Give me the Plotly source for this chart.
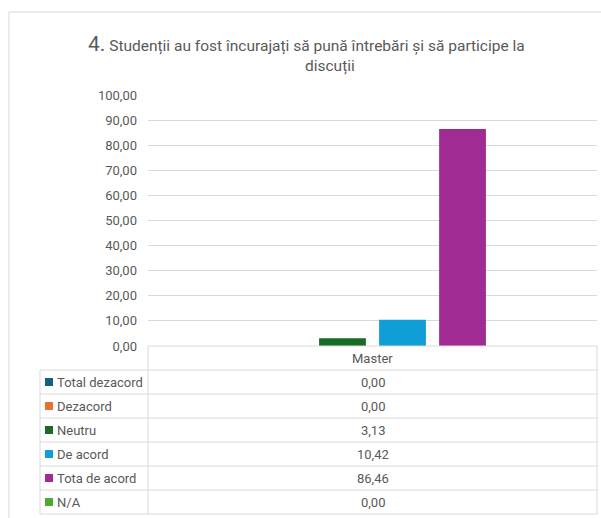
import plotly.graph_objects as go

W, H = 601, 518

category = "Master"
series_names = ["Total dezacord", "Dezacord", "Neutru", "De acord", "Tota de acord", "N/A"]
series_values = [0.00, 0.00, 3.13, 10.42, 86.46, 0.00]
series_colors = ["#156082", "#E97132", "#196B24", "#0F9ED5", "#A02B93", "#4EA72E"]
y_ticks = [0, 10, 20, 30, 40, 50, 60, 70, 80, 90, 100]
title_num = "4."
title_line1 = "Studenții au fost încurajați să pună întrebări și să participe la"
title_line2 = "discuții"

TXT = "#595959"
GRID = "#d9d9d9"
FONT = "Roboto"


def px(x):
    return x / W


def py(y):
    return 1 - y / H


def fmt(v):
    return f"{v:.2f}".replace(".", ",")


plot_left, plot_right = 148, 597
plot_top, plot_bottom = 95, 346
row_h = 24
table_left = 40

fig = go.Figure()
for name, val, col in zip(series_names, series_values, series_colors):
    fig.add_trace(go.Bar(x=[category], y=[val], name=name, marker=dict(color=col, line=dict(width=0))))

shapes = []
line = dict(color=GRID, width=1)
shapes.append(dict(type="line", xref="paper", yref="paper", x0=px(9), x1=px(601), y0=py(12), y1=py(12), line=line))
shapes.append(dict(type="line", xref="paper", yref="paper", x0=px(9), x1=px(9), y0=py(12), y1=py(518), line=line))

n_rows = len(series_names)
table_bottom = plot_bottom + row_h * (n_rows + 1)
shapes.append(dict(type="line", xref="paper", yref="paper", x0=px(plot_left), x1=px(plot_right),
                   y0=py(plot_bottom), y1=py(plot_bottom), line=line))
for i in range(n_rows + 1):
    yy = plot_bottom + row_h * (i + 1)
    shapes.append(dict(type="line", xref="paper", yref="paper", x0=px(table_left), x1=px(plot_right),
                       y0=py(yy), y1=py(yy), line=line))
shapes.append(dict(type="line", xref="paper", yref="paper", x0=px(plot_left), x1=px(plot_left),
                   y0=py(plot_bottom), y1=py(table_bottom), line=line))
shapes.append(dict(type="line", xref="paper", yref="paper", x0=px(plot_right), x1=px(plot_right),
                   y0=py(plot_bottom), y1=py(table_bottom), line=line))
shapes.append(dict(type="line", xref="paper", yref="paper", x0=px(table_left), x1=px(table_left),
                   y0=py(plot_bottom + row_h), y1=py(table_bottom), line=line))

annotations = []
annotations.append(dict(x=px((plot_left + plot_right) / 2), y=py(plot_bottom + row_h / 2), xref="paper", yref="paper",
                        text=category, showarrow=False, xanchor="center", yanchor="middle",
                        font=dict(family=FONT, size=13, color=TXT)))
for i, (name, val, col) in enumerate(zip(series_names, series_values, series_colors)):
    yc = plot_bottom + row_h * (i + 1) + row_h / 2
    shapes.append(dict(type="rect", xref="paper", yref="paper", x0=px(45), x1=px(53),
                       y0=py(yc - 4), y1=py(yc + 4), fillcolor=col, line=dict(width=0)))
    annotations.append(dict(x=px(55), y=py(yc), xref="paper", yref="paper", text=name, showarrow=False,
                            xanchor="left", yanchor="middle", font=dict(family=FONT, size=13, color=TXT)))
    annotations.append(dict(x=px((plot_left + plot_right) / 2), y=py(yc), xref="paper", yref="paper",
                            text=fmt(val), showarrow=False, xanchor="center", yanchor="middle",
                            font=dict(family=FONT, size=13, color=TXT)))

annotations.append(dict(x=px(306), y=py(44), xref="paper", yref="paper",
                        text=f"<span style='font-size:21px'>{title_num}</span> {title_line1}",
                        showarrow=False, xanchor="center", yanchor="middle",
                        font=dict(family=FONT, size=15.5, color=TXT)))
annotations.append(dict(x=px(330), y=py(66), xref="paper", yref="paper", text=title_line2,
                        showarrow=False, xanchor="center", yanchor="middle",
                        font=dict(family=FONT, size=15.5, color=TXT)))

fig.update_layout(
    template="none",
    width=W, height=H,
    margin=dict(l=0, r=0, t=0, b=0, pad=0, autoexpand=False),
    paper_bgcolor="white", plot_bgcolor="white",
    separators=",.",
    barmode="group", bargap=0.198, bargroupgap=0.22,
    showlegend=False,
    font=dict(family=FONT, color=TXT),
    xaxis=dict(domain=[px(plot_left), px(plot_right)], showticklabels=False, showgrid=False,
               zeroline=False, showline=False, fixedrange=True, automargin=False, ticks=""),
    yaxis=dict(domain=[py(plot_bottom), py(plot_top)], range=[0, 100], tickvals=y_ticks,
               tickformat=".2f", showgrid=True, gridcolor=GRID, gridwidth=1, zeroline=False,
               showline=False, ticks="", ticklabelstandoff=10, automargin=False,
               tickfont=dict(family=FONT, size=13, color=TXT)),
    shapes=shapes,
    annotations=annotations,
)

fig.write_html(
    "out.html",
    config={"displayModeBar": False},
    post_script="document.documentElement.style.margin='0';document.body.style.margin='0';"
                "document.body.style.overflow='hidden';"
                "var gd=document.getElementById('{plot_id}');gd.style.position='fixed';"
                "gd.style.top='0px';gd.style.left='0px';",
)
